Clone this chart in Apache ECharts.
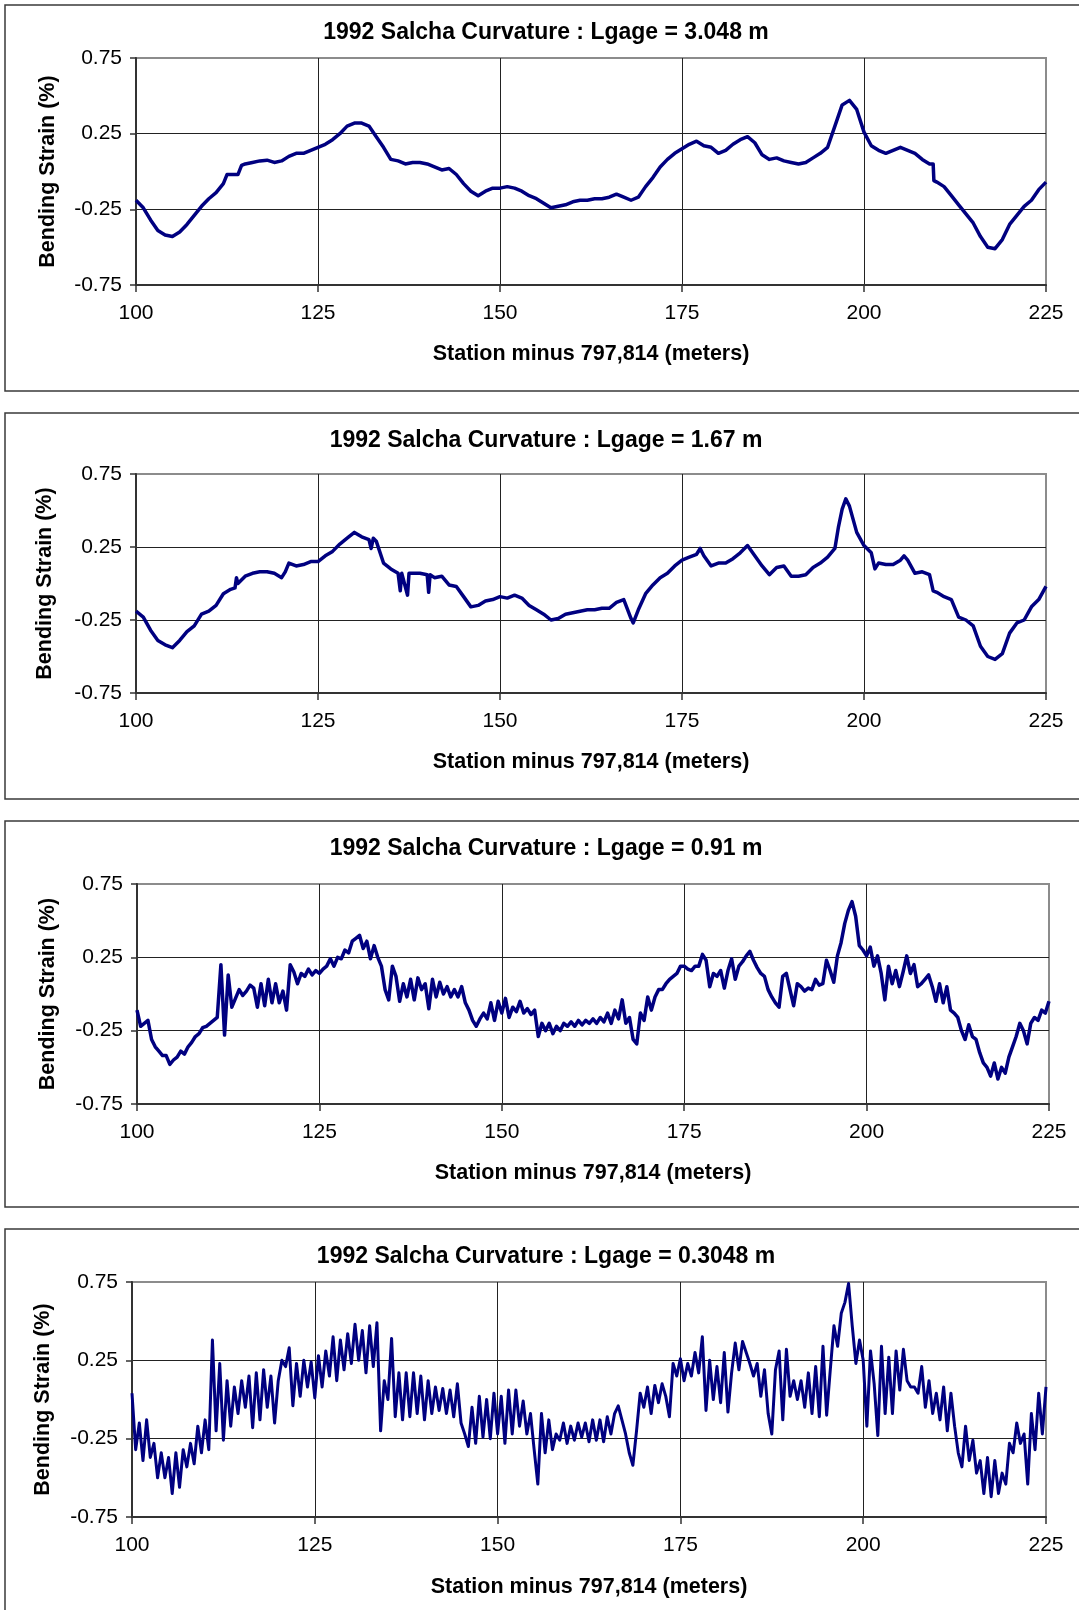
<!DOCTYPE html>
<html style="height: 100%">
  <head>
    <meta charset="UTF-8" />
    <title>1992 Salcha Curvature</title>
    <script src="https://cdn.jsdelivr.net/npm/echarts@6/dist/echarts.min.js"></script>
  </head>
  <body style="height: 100%; margin: 0; background: #fff">
    <div id="main" style="width: 1079px; height: 1610px"></div>
    <script>
      const chart = echarts.init(document.getElementById('main'))

      const titles = [
        '1992 Salcha Curvature : Lgage = 3.048 m',
        '1992 Salcha Curvature : Lgage = 1.67 m',
        '1992 Salcha Curvature : Lgage = 0.91 m',
        '1992 Salcha Curvature : Lgage = 0.3048 m',
      ]
      const xName = 'Station minus 797,814 (meters)'
      const yName = 'Bending Strain (%)'

      // Lgage = 3.048 m
      const stations1 = [
        100, 101, 102, 103, 104, 105, 106, 107, 108, 109, 110, 111, 112, 112.5, 113, 114, 114.5,
        115, 116, 117, 118, 119, 120, 121, 122, 123, 124, 125, 126, 127, 128, 129, 130, 131, 132,
        133, 134, 135, 136, 137, 138, 139, 140, 141, 142, 143, 144, 145, 146, 147, 148, 149, 150,
        151, 152, 153, 154, 155, 156, 157, 158, 159, 160, 161, 162, 163, 164, 165, 166, 167, 168,
        169, 170, 171, 172, 173, 174, 175, 176, 177, 178, 179, 180, 181, 182, 183, 184, 185, 186,
        187, 188, 189, 190, 191, 192, 193, 194, 195, 196, 197, 198, 199, 200, 201, 202, 203, 204,
        205, 206, 207, 208, 209, 209.5, 209.6, 210, 211, 212, 213, 214, 215, 216, 217, 218, 219,
        220, 221, 222, 223, 224, 225,
      ]
      const strain1 = [
        -0.19, -0.24, -0.32, -0.39, -0.42, -0.43, -0.40, -0.35, -0.29, -0.23, -0.18, -0.14, -0.08, -0.02, -0.02, -0.02, 0.04,
        0.05, 0.06, 0.07, 0.075, 0.06, 0.07, 0.10, 0.12, 0.12, 0.14, 0.16, 0.18, 0.21, 0.25, 0.30, 0.32, 0.32, 0.30,
        0.23, 0.16, 0.08, 0.07, 0.05, 0.06, 0.06, 0.05, 0.03, 0.01, 0.02, -0.02, -0.08, -0.13, -0.16, -0.13, -0.11, -0.11,
        -0.10, -0.11, -0.13, -0.16, -0.18, -0.21, -0.24, -0.23, -0.22, -0.20, -0.19, -0.19, -0.18, -0.18, -0.17, -0.15, -0.17, -0.19,
        -0.17, -0.10, -0.04, 0.03, 0.08, 0.12, 0.15, 0.18, 0.20, 0.17, 0.16, 0.12, 0.14, 0.18, 0.21, 0.23, 0.19, 0.11,
        0.08, 0.09, 0.07, 0.06, 0.05, 0.06, 0.09, 0.12, 0.16, 0.30, 0.44, 0.47, 0.41, 0.26, 0.17, 0.14, 0.12, 0.14,
        0.16, 0.14, 0.12, 0.08, 0.05, 0.05, -0.06, -0.07, -0.10, -0.16, -0.22, -0.28, -0.34, -0.43, -0.50, -0.51, -0.45,
        -0.35, -0.29, -0.23, -0.19, -0.12, -0.07,
      ]

      // Lgage = 1.67 m
      const stations2 = [
        100, 101, 102, 103, 104, 105, 106, 107, 108, 109, 110, 111, 112, 113, 113.6, 113.8, 114,
        115, 116, 117, 118, 119, 120, 120.5, 121, 122, 123, 124, 125, 126, 127, 128, 129, 130, 131,
        132, 132.3, 132.6, 133, 134, 135, 136, 136.3, 136.5, 137.3, 137.5, 138, 139, 140, 140.2, 140.4,
        141, 142, 143, 144, 145, 146, 147, 148, 149, 150, 151, 152, 153, 154, 155, 156, 157, 158,
        159, 160, 161, 162, 163, 164, 165, 166, 167, 168, 168.3, 169, 170, 171, 172, 173, 174, 175,
        176, 177, 177.5, 178, 179, 180, 181, 182, 183, 184, 185, 186, 187, 188, 189, 190, 191, 192,
        193, 194, 195, 196, 196.5, 197, 197.5, 198, 199, 200, 201, 201.5, 202, 203, 204, 205, 205.5,
        206, 207, 208, 209, 209.5, 210, 211, 212, 213, 214, 215, 216, 217, 218, 219, 220, 221, 222,
        223, 224, 225,
      ]
      const strain2 = [
        -0.19, -0.23, -0.32, -0.39, -0.42, -0.44, -0.39, -0.33, -0.29, -0.21, -0.19, -0.15, -0.07, -0.04, -0.03, 0.04, 0.00,
        0.05, 0.07, 0.08, 0.08, 0.07, 0.04, 0.08, 0.14, 0.12, 0.13, 0.15, 0.15, 0.19, 0.22, 0.27, 0.31, 0.35, 0.32,
        0.30, 0.24, 0.31, 0.29, 0.14, 0.10, 0.07, -0.05, 0.07, -0.08, 0.07, 0.07, 0.07, 0.06, -0.06, 0.06,
        0.04, 0.05, -0.01, -0.02, -0.09, -0.16, -0.15, -0.12, -0.11, -0.09, -0.10, -0.08, -0.10, -0.15, -0.18, -0.21, -0.25, -0.24,
        -0.21, -0.20, -0.19, -0.18, -0.18, -0.17, -0.17, -0.13, -0.11, -0.24, -0.27, -0.18, -0.07, -0.01, 0.04, 0.07, 0.12, 0.16,
        0.18, 0.20, 0.24, 0.19, 0.12, 0.14, 0.14, 0.17, 0.21, 0.26, 0.19, 0.12, 0.06, 0.11, 0.12, 0.05, 0.05, 0.06,
        0.11, 0.14, 0.18, 0.24, 0.39, 0.51, 0.58, 0.53, 0.35, 0.26, 0.21, 0.10, 0.14, 0.13, 0.13, 0.16, 0.19,
        0.16, 0.07, 0.08, 0.06, -0.05, -0.06, -0.09, -0.11, -0.23, -0.25, -0.29, -0.43, -0.50, -0.52, -0.48, -0.34, -0.27, -0.25,
        -0.16, -0.11, -0.02,
      ]

      // shorter gauges, read every half metre from 100 m
      const SAMPLE_START = 100
      const SAMPLE_STEP = 0.5

      // Lgage = 0.91 m
      const strain3 = [
        -0.11, -0.22, -0.20, -0.18, -0.31, -0.36, -0.39, -0.42, -0.42, -0.48,
        -0.45, -0.43, -0.39, -0.41, -0.36, -0.33, -0.29, -0.27, -0.23, -0.22,
        -0.20, -0.18, -0.16, 0.20, -0.28, 0.13, -0.09, -0.03, 0.03, -0.01,
        0.02, 0.06, 0.04, -0.09, 0.07, -0.08, 0.10, -0.06, 0.07, -0.06,
        0.02, -0.11, 0.20, 0.15, 0.07, 0.14, 0.12, 0.17, 0.13, 0.16,
        0.14, 0.17, 0.19, 0.24, 0.19, 0.25, 0.24, 0.30, 0.28, 0.36,
        0.38, 0.40, 0.31, 0.36, 0.24, 0.33, 0.25, 0.19, 0.03, -0.04,
        0.19, 0.12, -0.05, 0.07, -0.02, 0.10, -0.04, 0.11, 0.03, 0.07,
        -0.10, 0.10, -0.02, 0.08, 0.00, 0.05, -0.02, 0.03, -0.02, 0.05,
        -0.06, -0.11, -0.18, -0.22, -0.17, -0.13, -0.17, -0.06, -0.18, -0.05,
        -0.13, -0.03, -0.16, -0.09, -0.12, -0.05, -0.13, -0.10, -0.14, -0.11,
        -0.29, -0.20, -0.25, -0.20, -0.27, -0.22, -0.25, -0.20, -0.22, -0.19,
        -0.22, -0.18, -0.21, -0.18, -0.20, -0.17, -0.20, -0.16, -0.19, -0.13,
        -0.20, -0.11, -0.17, -0.04, -0.20, -0.16, -0.31, -0.34, -0.13, -0.18,
        -0.02, -0.11, -0.02, 0.03, 0.03, 0.07, 0.10, 0.12, 0.14, 0.19,
        0.19, 0.17, 0.16, 0.19, 0.19, 0.27, 0.23, 0.05, 0.14, 0.12,
        0.16, 0.04, 0.16, 0.24, 0.10, 0.19, 0.22, 0.26, 0.29, 0.23,
        0.18, 0.14, 0.12, 0.03, -0.02, -0.06, -0.09, 0.12, 0.14, 0.03,
        -0.08, 0.07, 0.05, 0.02, 0.04, 0.03, 0.10, 0.06, 0.07, 0.23,
        0.16, 0.08, 0.26, 0.35, 0.48, 0.57, 0.63, 0.53, 0.33, 0.30,
        0.26, 0.32, 0.19, 0.26, 0.14, -0.04, 0.19, 0.07, 0.16, 0.05,
        0.15, 0.26, 0.14, 0.20, 0.05, 0.07, 0.10, 0.13, 0.05, -0.05,
        0.07, -0.06, 0.05, -0.11, -0.13, -0.16, -0.25, -0.31, -0.21, -0.29,
        -0.31, -0.40, -0.47, -0.50, -0.56, -0.47, -0.58, -0.50, -0.54, -0.43,
        -0.36, -0.29, -0.20, -0.25, -0.34, -0.20, -0.16, -0.18, -0.11, -0.13,
        -0.05,
      ]

      // Lgage = 0.3048 m
      const strain4 = [
        0.04, -0.32, -0.15, -0.39, -0.13, -0.37, -0.28, -0.50, -0.34, -0.50,
        -0.37, -0.60, -0.34, -0.56, -0.32, -0.43, -0.28, -0.41, -0.17, -0.34,
        -0.13, -0.32, 0.38, -0.20, 0.23, -0.26, 0.12, -0.17, 0.08, -0.09,
        0.12, -0.05, 0.15, -0.18, 0.17, -0.13, 0.19, -0.05, 0.15, -0.15,
        0.12, 0.25, 0.21, 0.33, -0.04, 0.23, 0.02, 0.25, 0.08, 0.24,
        0.01, 0.28, 0.08, 0.31, 0.15, 0.40, 0.12, 0.38, 0.19, 0.42,
        0.23, 0.48, 0.25, 0.44, 0.17, 0.47, 0.21, 0.49, -0.20, 0.12,
        0.00, 0.39, -0.11, 0.17, -0.13, 0.17, -0.11, 0.17, -0.09, 0.15,
        -0.13, 0.12, -0.09, 0.08, -0.07, 0.07, -0.09, 0.06, -0.11, 0.10,
        -0.15, -0.22, -0.30, -0.05, -0.28, 0.02, -0.24, 0.00, -0.25, 0.04,
        -0.22, 0.02, -0.28, 0.06, -0.22, 0.06, -0.17, -0.01, -0.22, -0.09,
        -0.32, -0.54, -0.09, -0.34, -0.13, -0.32, -0.22, -0.26, -0.15, -0.28,
        -0.17, -0.26, -0.15, -0.24, -0.15, -0.27, -0.13, -0.26, -0.13, -0.27,
        -0.11, -0.22, -0.09, -0.04, -0.13, -0.22, -0.34, -0.42, -0.20, 0.04,
        -0.05, 0.08, -0.09, 0.09, -0.02, 0.10, 0.02, -0.11, 0.23, 0.15,
        0.26, 0.12, 0.23, 0.15, 0.30, 0.17, 0.40, -0.07, 0.25, 0.00,
        0.21, -0.02, 0.30, -0.08, 0.17, 0.36, 0.19, 0.37, 0.30, 0.23,
        0.15, 0.23, 0.02, 0.19, -0.09, -0.22, 0.19, 0.31, -0.13, 0.32,
        0.02, 0.12, -0.00, 0.12, -0.05, 0.17, -0.09, 0.21, -0.11, 0.34,
        -0.10, 0.19, 0.47, 0.34, 0.55, 0.62, 0.74, 0.47, 0.23, 0.38,
        0.25, -0.17, 0.31, 0.10, -0.23, 0.34, -0.09, 0.27, -0.09, 0.31,
        0.06, 0.32, 0.12, 0.08, 0.08, 0.04, 0.21, -0.05, 0.12, -0.09,
        0.04, -0.13, 0.08, -0.20, 0.04, -0.17, -0.34, -0.43, -0.17, -0.39,
        -0.26, -0.47, -0.39, -0.60, -0.37, -0.62, -0.39, -0.60, -0.47, -0.54,
        -0.28, -0.34, -0.15, -0.28, -0.22, -0.54, -0.09, -0.32, 0.04, -0.22,
        0.08,
      ]

      const pairs = (xs, ys) => ys.map((v, i) => [xs[i], v])
      const sampled = (ys) => ys.map((v, i) => [SAMPLE_START + i * SAMPLE_STEP, v])

      const seriesData = [
        pairs(stations1, strain1),
        pairs(stations2, strain2),
        sampled(strain3),
        sampled(strain4),
      ]

      // layout of the four framed panels (pixels)
      const W = 1079
      const layout = [
        { box: 5, boxH: 386, top: 58, height: 227, left: 136, right: 33, titleY: 33, nameY: 354, yNameX: 48, lw: 3.5 },
        { box: 413, boxH: 386, top: 474, height: 219, left: 136, right: 33, titleY: 441, nameY: 762, yNameX: 45, lw: 3.5 },
        { box: 821, boxH: 386, top: 884, height: 220, left: 137, right: 30, titleY: 849, nameY: 1173, yNameX: 48, lw: 3.5 },
        { box: 1229, boxH: 400, top: 1282, height: 235, left: 132, right: 33, titleY: 1257, nameY: 1587, yNameX: 43, lw: 3 },
      ]

      const FONT = "'Liberation Sans', Arial, sans-serif"
      const graphics = []
      layout.forEach((p, i) => {
        graphics.push({
          type: 'rect',
          shape: { x: 5, y: p.box, width: 1090, height: p.boxH },
          style: { fill: 'none', stroke: '#3a3a3a', lineWidth: 1.5 },
          silent: true,
        })
        graphics.push({
          type: 'text',
          x: 546,
          y: p.titleY,
          style: { text: titles[i], font: 'bold 23px ' + FONT, fill: '#000', align: 'center', verticalAlign: 'middle' },
        })
        graphics.push({
          type: 'text',
          x: (p.left + W - p.right) / 2,
          y: p.nameY,
          style: { text: xName, font: 'bold 21.5px ' + FONT, fill: '#000', align: 'center', verticalAlign: 'middle' },
        })
        graphics.push({
          type: 'text',
          x: p.yNameX,
          y: p.top + p.height / 2,
          rotation: Math.PI / 2,
          style: { text: yName, font: 'bold 21.5px ' + FONT, fill: '#000', align: 'center', verticalAlign: 'middle' },
        })
      })

      const option = {
        backgroundColor: '#fff',
        animation: false,
        grid: layout.map((p) => ({
          left: p.left,
          right: p.right,
          top: p.top,
          height: p.height,
          show: true,
          borderColor: '#8c8c8c',
          borderWidth: 2,
          backgroundColor: 'transparent',
        })),
        xAxis: layout.map((p, i) => ({
          type: 'value',
          gridIndex: i,
          min: 100,
          max: 225,
          interval: 25,
          axisLine: { show: true, onZero: false, lineStyle: { color: '#333', width: 2 } },
          axisTick: { show: true, length: 7, lineStyle: { color: '#333', width: 1.5 } },
          axisLabel: { margin: 18, color: '#000', fontSize: 21, fontFamily: FONT },
          splitLine: { show: true, showMinLine: false, showMaxLine: false, lineStyle: { color: '#222', width: 1 } },
        })),
        yAxis: layout.map((p, i) => ({
          type: 'value',
          gridIndex: i,
          min: -0.75,
          max: 0.75,
          interval: 0.5,
          axisLine: { show: true, onZero: false, lineStyle: { color: '#333', width: 2 } },
          axisTick: { show: true, length: 6, lineStyle: { color: '#333', width: 1.5 } },
          axisLabel: {
            margin: 14,
            color: '#000',
            fontSize: 21,
            fontFamily: FONT,
            formatter: (v) => v.toFixed(2),
          },
          splitLine: { show: true, showMinLine: false, showMaxLine: false, lineStyle: { color: '#222', width: 1 } },
        })),
        series: seriesData.map((d, i) => ({
          type: 'line',
          xAxisIndex: i,
          yAxisIndex: i,
          data: d,
          showSymbol: false,
          lineStyle: { color: '#000080', width: layout[i].lw, join: 'round' },
          clip: false,
        })),
        graphic: graphics,
      }

      chart.setOption(option)
    </script>
  </body>
</html>
